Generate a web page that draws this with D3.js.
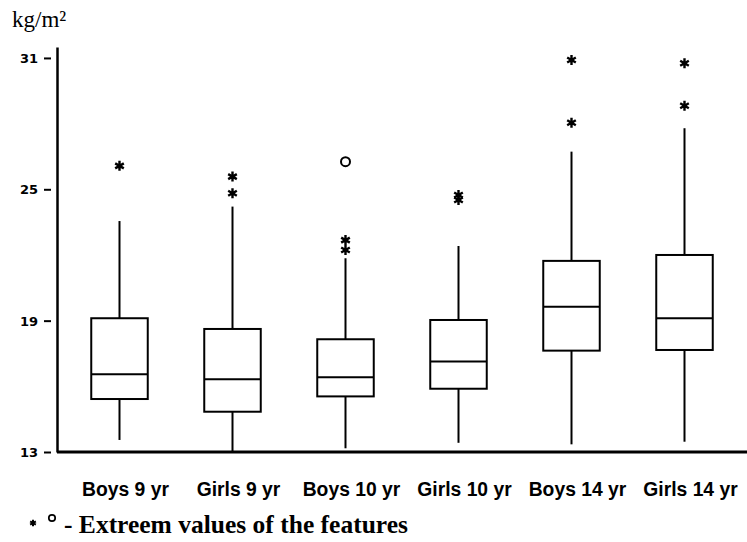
<!DOCTYPE html>
<html>
<head>
<meta charset="utf-8">
<script src="https://cdn.jsdelivr.net/npm/d3@7"></script>
<style>
  html, body { margin: 0; padding: 0; background: #fff; }
  svg { display: block; }
</style>
</head>
<body>
<svg id="chart" width="747" height="542"></svg>
<script>
// ---- data ----
const categories = ["Boys 9 yr", "Girls 9 yr", "Boys 10 yr", "Girls 10 yr", "Boys 14 yr", "Girls 14 yr"];
const whiskerLow  = [13.55, 13.0, 13.17, 13.42, 13.35, 13.47];
const quartile1   = [15.42, 14.84, 15.54, 15.89, 17.63, 17.66];
const medians     = [16.55, 16.32, 16.41, 17.13, 19.64, 19.11];
const quartile3   = [19.11, 18.62, 18.15, 19.03, 21.73, 22.00];
const whiskerHigh = [23.55, 24.21, 21.85, 22.41, 26.72, 27.79];
const extremeStars = [[26.07], [25.58, 24.82], [22.68, 22.23], [24.74, 24.51], [30.91, 28.04], [30.76, 28.82]];
const extremeCircles = [[], [], [26.26], [], [], []];
const yTicks = [13, 19, 25, 31];
const yLabel = "kg/m²";
const legendText = "- Extreem values of the features";

// ---- layout ----
const svg = d3.select("#chart");
const axisX = 57, axisY = 452;

const x = d3.scaleBand().domain(categories).range([63, 741]).paddingInner(0.5).paddingOuter(0.25);
const y = d3.scaleLinear().domain([13, 31.5]).range([axisY, 47]);

// y axis
const yAxis = d3.axisLeft(y).tickValues(yTicks).tickFormat(d3.format("d")).tickSizeOuter(0);
const gy = svg.append("g").attr("transform", `translate(${axisX},0)`).call(yAxis);
gy.select(".domain").attr("stroke", "#000").attr("stroke-width", 2.5);
gy.selectAll(".tick line").attr("x1", -6).attr("x2", -13).attr("stroke", "#000").attr("stroke-width", 2);
gy.selectAll(".tick text").attr("x", -19).attr("dy", "0.36em")
  .style("font-family", "'DejaVu Sans', sans-serif").style("font-weight", "bold").style("font-size", "13px").attr("fill", "#000");

// x axis line
svg.append("line").attr("x1", axisX).attr("x2", 747).attr("y1", axisY).attr("y2", axisY)
  .attr("stroke", "#000").attr("stroke-width", 3);

// y label
svg.append("text").attr("x", 12).attr("y", 27).text(yLabel)
  .style("font-family", "'Liberation Serif', 'Times New Roman', serif").style("font-size", "23px").attr("fill", "#000");

// boxes
const g = svg.append("g");
categories.forEach((c, i) => {
  const x0 = x(c), bw = x.bandwidth(), cx = x0 + bw / 2;
  const grp = g.append("g");
  grp.append("line").attr("x1", cx).attr("x2", cx).attr("y1", y(quartile3[i])).attr("y2", y(whiskerHigh[i]))
    .attr("stroke", "#000").attr("stroke-width", 2);
  grp.append("line").attr("x1", cx).attr("x2", cx).attr("y1", y(quartile1[i])).attr("y2", y(whiskerLow[i]))
    .attr("stroke", "#000").attr("stroke-width", 2);
  grp.append("rect").attr("x", x0).attr("width", bw)
    .attr("y", y(quartile3[i])).attr("height", y(quartile1[i]) - y(quartile3[i]))
    .attr("fill", "#fff").attr("stroke", "#000").attr("stroke-width", 2);
  grp.append("line").attr("x1", x0).attr("x2", x0 + bw).attr("y1", y(medians[i])).attr("y2", y(medians[i]))
    .attr("stroke", "#000").attr("stroke-width", 2);
  extremeStars[i].forEach(v => {
    grp.append("path").attr("d", d3.symbol(d3.symbolAsterisk, 70)())
      .attr("transform", `translate(${cx},${y(v)})`).attr("fill", "none").attr("stroke", "#000").attr("stroke-width", 2.4);
  });
  extremeCircles[i].forEach(v => {
    grp.append("circle").attr("cx", cx).attr("cy", y(v)).attr("r", 4.5)
      .attr("fill", "none").attr("stroke", "#000").attr("stroke-width", 2);
  });
});

// category labels (condensed bold sans)
svg.append("g").selectAll("text").data(categories).join("text")
  .attr("transform", d => `translate(${x(d) + x.bandwidth() / 2 + 6},496) scale(0.92,1)`)
  .attr("text-anchor", "middle")
  .text(d => d)
  .style("font-family", "'Liberation Sans', Arial, sans-serif")
  .style("font-weight", "bold").style("font-size", "21px").attr("fill", "#000");

// legend
const lg = svg.append("g");
lg.append("path").attr("d", d3.symbol(d3.symbolAsterisk, 30)()).attr("transform", "translate(33,523)")
  .attr("fill", "none").attr("stroke", "#000").attr("stroke-width", 2);
lg.append("circle").attr("cx", 52).attr("cy", 518).attr("r", 3.2).attr("fill", "none").attr("stroke", "#000").attr("stroke-width", 1.7);
lg.append("text").attr("x", 64).attr("y", 533).text(legendText)
  .style("font-family", "'Liberation Serif', 'Times New Roman', serif").style("font-weight", "bold").style("font-size", "25.5px").attr("fill", "#000");
</script>
</body>
</html>
